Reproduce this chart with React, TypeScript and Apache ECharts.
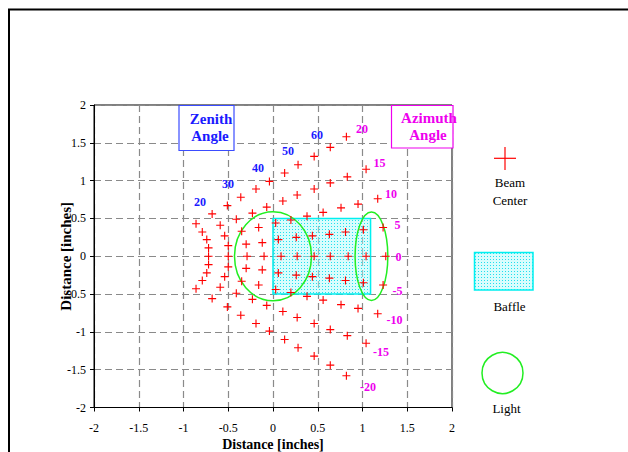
import React, { useEffect, useRef } from 'react';
import * as echarts from 'echarts';

// Beam centre positions, one pair of arrays per azimuth angle (zenith 20..70 step 5)
const az20X = [-0.86, -0.68, -0.51, -0.36, -0.19, -0.04, 0.13, 0.28, 0.46, 0.64, 0.82];
const az20Y = [0.43, 0.56, 0.67, 0.78, 0.89, 0.99, 1.1, 1.21, 1.32, 1.44, 1.58];
const az15X = [-0.79, -0.59, -0.41, -0.23, -0.07, 0.11, 0.27, 0.46, 0.64, 0.83, 1.04];
const az15Y = [0.32, 0.41, 0.49, 0.57, 0.65, 0.73, 0.81, 0.89, 0.97, 1.05, 1.15];
const az10X = [-0.74, -0.54, -0.35, -0.16, 0.03, 0.2, 0.38, 0.56, 0.76, 0.95, 1.17];
const az10Y = [0.22, 0.27, 0.33, 0.38, 0.44, 0.48, 0.53, 0.58, 0.64, 0.69, 0.76];
const az5X = [-0.72, -0.5, -0.3, -0.12, 0.06, 0.26, 0.44, 0.63, 0.81, 1.01, 1.23];
const az5Y = [0.11, 0.14, 0.16, 0.18, 0.22, 0.25, 0.27, 0.29, 0.32, 0.35, 0.38];
const az0X = [-0.72, -0.5, -0.29, -0.1, 0.09, 0.27, 0.46, 0.64, 0.84, 1.04, 1.26];
const az0Y = [0, 0, 0, 0, 0, 0, 0, 0, 0, 0, 0];
const azm5X = [-0.72, -0.5, -0.3, -0.12, 0.06, 0.26, 0.44, 0.63, 0.81, 1.01, 1.23];
const azm5Y = [-0.11, -0.14, -0.16, -0.18, -0.22, -0.25, -0.27, -0.29, -0.32, -0.35, -0.38];
const azm10X = [-0.74, -0.54, -0.35, -0.16, 0.03, 0.2, 0.38, 0.56, 0.76, 0.95, 1.17];
const azm10Y = [-0.22, -0.27, -0.33, -0.38, -0.44, -0.48, -0.53, -0.58, -0.64, -0.69, -0.76];
const azm15X = [-0.79, -0.59, -0.41, -0.23, -0.07, 0.11, 0.27, 0.46, 0.64, 0.83, 1.04];
const azm15Y = [-0.32, -0.41, -0.49, -0.57, -0.65, -0.73, -0.81, -0.89, -0.97, -1.05, -1.15];
const azm20X = [-0.86, -0.68, -0.51, -0.36, -0.19, -0.04, 0.13, 0.28, 0.46, 0.64, 0.82];
const azm20Y = [-0.43, -0.56, -0.67, -0.78, -0.89, -0.99, -1.1, -1.21, -1.32, -1.44, -1.58];

const beamRowsX = [az20X, az15X, az10X, az5X, az0X, azm5X, azm10X, azm15X, azm20X];
const beamRowsY = [az20Y, az15Y, az10Y, az5Y, az0Y, azm5Y, azm10Y, azm15Y, azm20Y];

// Baffle rectangle (x0, x1) and (y0, y1)
const baffleX = [0, 1.09];
const baffleY = [-0.5, 0.5];

// Light ellipses
const lightCx = [0, 1.1];
const lightCy = [0, 0];
const lightRx = [0.43, 0.183];
const lightRy = [0.588, 0.585];

const zenithLabels = ['20', '30', '40', '50', '60'];
const azimuthLabels = ['20', '15', '10', '5', '0', '-5', '-10', '-15', '-20'];
const legendNames = ['Beam\nCenter', 'Baffle', 'Light'];
const axisTitle = 'Distance [inches]';

const SERIF = "'Liberation Serif', 'Times New Roman', serif";

export default function App() {
  const ref = useRef<HTMLDivElement>(null);
  useEffect(() => {
    const chart = echarts.init(ref.current!, null, { renderer: 'svg' });

    const cv = document.createElement('canvas');
    cv.width = 3;
    cv.height = 3;
    const ctx = cv.getContext('2d')!;
    ctx.fillStyle = 'rgba(170,250,250,0.45)';
    ctx.fillRect(0, 0, 3, 3);
    ctx.fillStyle = '#22dfee';
    ctx.fillRect(1, 1, 1, 1);
    const pattern: any = { image: cv, repeat: 'repeat', imageWidth: 3, imageHeight: 3 };

    const beamData: number[][] = [];
    beamRowsX.forEach((row, i) => row.forEach((x, j) => beamData.push([x, beamRowsY[i][j]])));

    const lightData = lightCx.map((cx, i) => [cx, lightCy[i], lightRx[i], lightRy[i]]);

    const zenPos = [[200, 202], [228, 184], [258, 168], [288, 151], [317, 135]];
    const aziPos = [[362, 128.5], [379.5, 162.5], [391, 194], [397.5, 224.5], [398.5, 257], [397.5, 290.5], [394.5, 319.5], [381, 352], [368, 387]];

    const txt = (x: number, y: number, text: string, font: string, fill: string, z = 11, extra: any = {}) => ({
      type: 'text', x, y, z,
      style: { text, font, fill, align: 'center', verticalAlign: 'middle', ...extra },
    });

    const graphic: any[] = [
      { type: 'rect', shape: { x: 9, y: 9.5, width: 700, height: 500 }, style: { fill: 'none', stroke: '#000', lineWidth: 2 }, silent: true },
      // Zenith box
      { type: 'rect', shape: { x: 179, y: 105.5, width: 55, height: 45 }, style: { fill: '#fff', stroke: '#3b4cff', lineWidth: 1.2 }, z: 10 },
      txt(211, 118.5, 'Zenith', `bold 15px ${SERIF}`, '#1a1aff'),
      txt(210, 136, 'Angle', `bold 15px ${SERIF}`, '#1a1aff'),
      // Azimuth box
      { type: 'rect', shape: { x: 391.5, y: 105.5, width: 61.5, height: 42.5 }, style: { fill: '#fff', stroke: '#ee00ee', lineWidth: 1.2 }, z: 10 },
      txt(429, 117.5, 'Azimuth', `bold 15px ${SERIF}`, '#ee00ee'),
      txt(428, 135, 'Angle', `bold 15px ${SERIF}`, '#ee00ee'),
      // Legend
      { type: 'line', shape: { x1: 494, y1: 158.3, x2: 516, y2: 158.3 }, style: { stroke: '#ff0000', lineWidth: 1.2 } },
      { type: 'line', shape: { x1: 505, y1: 147, x2: 505, y2: 170 }, style: { stroke: '#ff0000', lineWidth: 1.2 } },
      txt(510, 191.5, legendNames[0], `13px ${SERIF}`, '#000', 11, { lineHeight: 17.5 }),
      { type: 'rect', shape: { x: 474.5, y: 252.5, width: 58.5, height: 37.5 }, style: { fill: pattern, stroke: '#00f0f0', lineWidth: 1.5 } },
      txt(509.5, 306, legendNames[1], `13px ${SERIF}`, '#000'),
      { type: 'circle', shape: { cx: 502.5, cy: 373, r: 20.5 }, style: { fill: 'none', stroke: '#22ee22', lineWidth: 1.5 } },
      txt(506.5, 408, legendNames[2], `13px ${SERIF}`, '#000'),
    ];
    zenithLabels.forEach((t, i) => graphic.push(txt(zenPos[i][0], zenPos[i][1], t, `bold 12px ${SERIF}`, '#1a1aff', 12)));
    azimuthLabels.forEach((t, i) => graphic.push(txt(aziPos[i][0], aziPos[i][1], t, `bold 12px ${SERIF}`, '#ee00ee', 12)));

    const splitLine = { show: true, lineStyle: { color: '#8a8a8a', type: [7, 4], width: 1.2 } };
    const axisCommon = {
      type: 'value', min: -2, max: 2, interval: 0.5,
      axisLine: { show: true, onZero: false, lineStyle: { color: '#000', width: 1 } },
      axisTick: { show: true, length: 4, lineStyle: { color: '#000' } },
      splitLine,
      nameLocation: 'middle',
      nameMoveOverlap: false,
    };

    chart.setOption({
      animation: false,
      backgroundColor: '#fff',
      textStyle: { fontFamily: SERIF },
      grid: {
        left: 94, top: 105, width: 358, height: 302.5, show: true,
        borderColor: '#000', borderWidth: 1, backgroundColor: 'transparent',
        containLabel: false, outerBoundsMode: 'none',
      },
      xAxis: {
        ...axisCommon,
        name: axisTitle, nameGap: 30,
        nameTextStyle: { fontFamily: SERIF, fontWeight: 'bold', fontSize: 14, color: '#000' },
        axisLabel: { fontFamily: SERIF, fontSize: 12, color: '#000', margin: 14 },
      },
      yAxis: {
        ...axisCommon,
        name: axisTitle, nameGap: 21,
        nameTextStyle: { fontFamily: SERIF, fontWeight: 'bold', fontSize: 15, color: '#000' },
        axisLabel: { fontFamily: SERIF, fontSize: 12, color: '#000', margin: 8 },
      },
      series: [
        {
          type: 'custom', name: 'Baffle', z: 1,
          data: [[baffleX[0], baffleY[1], baffleX[1], baffleY[0]]],
          encode: { x: [0, 2], y: [1, 3] },
          renderItem: (params: any, api: any) => {
            const p1 = api.coord([api.value(0), api.value(1)]);
            const p2 = api.coord([api.value(2), api.value(3)]);
            return {
              type: 'rect',
              shape: { x: p1[0], y: p1[1], width: p2[0] - p1[0], height: p2[1] - p1[1] },
              style: { fill: pattern, stroke: '#00f0f0', lineWidth: 1.5 },
            };
          },
        },
        {
          type: 'custom', name: 'Light', z: 3,
          data: lightData,
          encode: { x: 0, y: 1 },
          renderItem: (params: any, api: any) => {
            const c = api.coord([api.value(0), api.value(1)]);
            const s = api.size([api.value(2), api.value(3)]);
            return {
              type: 'ellipse',
              shape: { cx: c[0], cy: c[1], rx: s[0], ry: s[1] },
              style: { fill: 'none', stroke: '#22ee22', lineWidth: 1.5 },
            };
          },
        },
        {
          type: 'scatter', name: 'Beam Center', z: 4,
          data: beamData,
          symbol: 'path://M0,4.3H10V5.7H0Z M4.3,0H5.7V10H4.3Z',
          symbolSize: 8,
          itemStyle: { color: '#ff0000', opacity: 1 },
        },
      ],
      graphic,
    });
    return () => chart.dispose();
  }, []);
  return <div ref={ref} style={{ position: 'fixed', left: 0, top: 0, width: 628, height: 452 }} />;
}
